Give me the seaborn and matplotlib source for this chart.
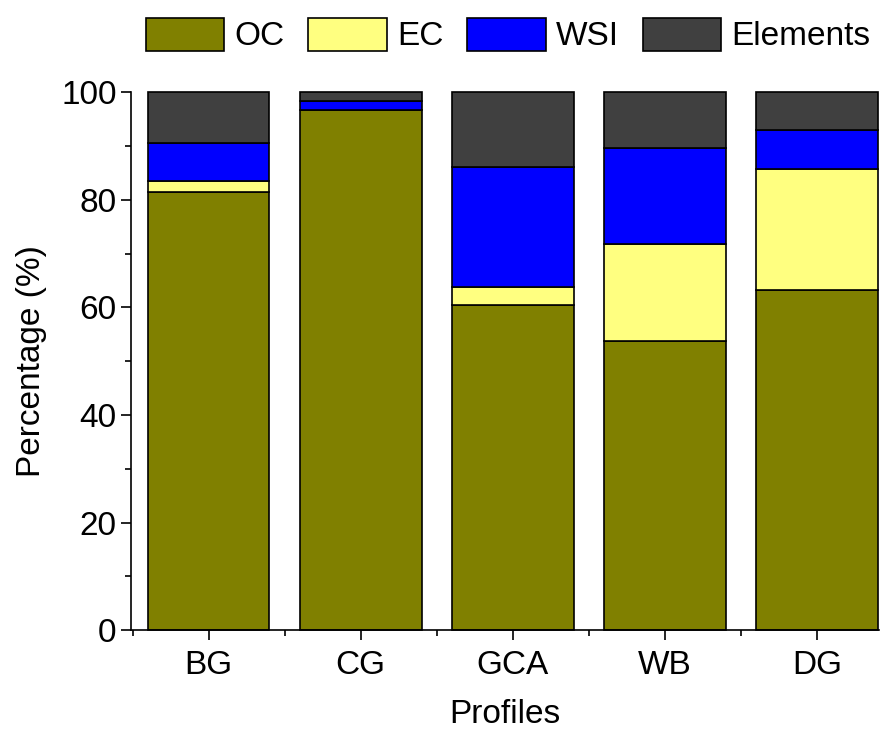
import numpy as np
import matplotlib
matplotlib.use("Agg")
import matplotlib.pyplot as plt
import seaborn as sns
from matplotlib.ticker import MultipleLocator, FixedLocator

profiles = ["BG", "CG", "GCA", "WB", "DG"]
oc = [81.5, 96.6, 60.4, 53.7, 63.2]
ec = [1.9, 0.1, 3.3, 18.0, 22.5]
wsi = [7.1, 1.6, 22.3, 17.9, 7.3]
elements = [9.5, 1.7, 14.0, 10.4, 7.0]

layers = ["OC", "EC", "WSI", "Elements"]
colors = ["#808000", "#FFFF80", "#0000FF", "#404040"]

sns.set_style("ticks")
plt.rcParams["font.family"] = ["Liberation Sans", "DejaVu Sans"]
plt.rcParams["text.color"] = "black"
plt.rcParams["axes.labelcolor"] = "black"
plt.rcParams["xtick.color"] = "black"
plt.rcParams["ytick.color"] = "black"

fig = plt.figure(figsize=(8.8, 7.31), dpi=100)
ax = fig.add_axes([0.149, 0.138, 0.85, 0.736])

bottom = np.zeros(len(profiles))
for name, vals, col in zip(layers, [oc, ec, wsi, elements], colors):
    sns.barplot(x=profiles, y=vals, bottom=bottom, color=col, edgecolor="black",
                linewidth=1.2, width=0.8, ax=ax, label=name, saturation=1)
    bottom = bottom + np.array(vals)

if ax.get_legend() is not None:
    ax.get_legend().remove()

for c in ax.containers:
    for p in c:
        p.set_clip_on(False)

ax.set_ylim(0, 100)
ax.set_xlim(-0.51, 4.41)
ax.yaxis.set_major_locator(MultipleLocator(20))
ax.yaxis.set_minor_locator(MultipleLocator(10))
ax.xaxis.set_minor_locator(FixedLocator(np.arange(-0.5, 4.6, 1)))
ax.tick_params(axis="both", which="major", direction="out", length=7, width=1.2,
               labelsize=24, color="black")
ax.tick_params(axis="both", which="minor", direction="out", length=4, width=1.2)
ax.tick_params(axis="x", pad=7)
ax.set_ylabel("Percentage (%)", fontsize=24, labelpad=10)
ax.set_xlabel("Profiles", fontsize=24, labelpad=13)

sns.despine(ax=ax)
for s in ["left", "bottom"]:
    ax.spines[s].set_linewidth(1.2)
    ax.spines[s].set_color("black")

handles = [c.patches[0] for c in ax.containers]
fig.legend(handles, layers, loc="center left", bbox_to_anchor=(146 / 880, 1 - 35 / 731),
           bbox_transform=fig.transFigure, ncol=4, frameon=False, fontsize=24,
           handlelength=2.35, handleheight=1.15, handletextpad=0.3,
           columnspacing=0.72, borderpad=0, borderaxespad=0)

fig.savefig("out.png", dpi=100)
